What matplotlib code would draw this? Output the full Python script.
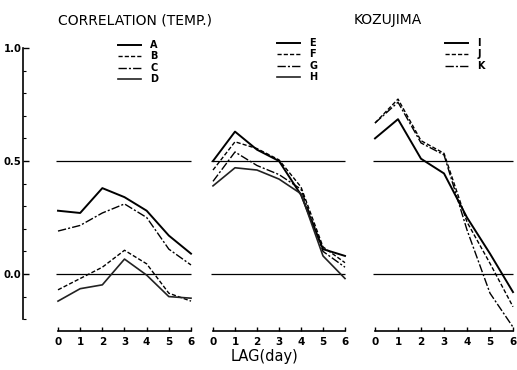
import matplotlib
matplotlib.use('Agg')
import matplotlib.pyplot as plt

lag = [0, 1, 2, 3, 4, 5, 6]

# panel 1
a = [0.28, 0.27, 0.38, 0.34, 0.28, 0.17, 0.09]
b = [-0.07, -0.02, 0.03, 0.105, 0.045, -0.085, -0.12]
c = [0.19, 0.215, 0.27, 0.31, 0.25, 0.11, 0.04]
d = [-0.12, -0.065, -0.048, 0.066, -0.005, -0.10, -0.107]
# panel 2
e = [0.50, 0.63, 0.55, 0.50, 0.35, 0.11, 0.08]
f = [0.46, 0.585, 0.555, 0.505, 0.385, 0.12, 0.05]
g = [0.41, 0.54, 0.48, 0.44, 0.375, 0.10, 0.03]
h = [0.39, 0.47, 0.46, 0.42, 0.355, 0.08, -0.02]
# panel 3
i_ = [0.60, 0.685, 0.51, 0.445, 0.25, 0.09, -0.08]
j = [0.668, 0.774, 0.59, 0.534, 0.23, 0.047, -0.145]
k = [0.668, 0.76, 0.58, 0.527, 0.195, -0.085, -0.235]

panels = [
    ([a, b, c, d], ['A', 'B', 'C', 'D']),
    ([e, f, g, h], ['E', 'F', 'G', 'H']),
    ([i_, j, k], ['I', 'J', 'K']),
]

styles = [
    dict(ls='-', lw=1.4, color='black'),
    dict(ls=(0, (3, 1.5)), lw=1.0, color='black'),
    dict(ls=(0, (6, 1.5, 1.5, 1.5)), lw=1.0, color='black'),
    dict(ls='-', lw=1.2, color='#222222'),
]

W, H = 517, 370
fig = plt.figure(figsize=(5.17, 3.70), dpi=100)

ylo, yhi = -0.25, 1.05
px_per = 226.0
y_zero = 274
top_px = y_zero - yhi * px_per
bot_px = y_zero - ylo * px_per

# (pixel x of lag 0, pixel x of lag 6)
xpix = [(58, 191), (213, 345), (375, 513)]
leg_pos = [(118, 40), (277, 38), (445, 38)]

for n, ((x0, x6), (series, labels)) in enumerate(zip(xpix, panels)):
    step = (x6 - x0) / 6.0
    left = x0 - 0.15 * step
    right = x6 + 0.15 * step
    ax = fig.add_axes([left / W, 1 - bot_px / H, (right - left) / W, (bot_px - top_px) / H])
    ax.set_xlim(-0.15, 6.15)
    ax.set_ylim(ylo, yhi)
    ax.patch.set_alpha(0)

    ax.hlines([0.5, 0.0], -0.1, 6.0, color='black', lw=0.9)
    handles = []
    for s, st in zip(series, styles):
        ln, = ax.plot(lag, s, **st)
        handles.append(ln)

    for sp in ['top', 'right', 'left']:
        ax.spines[sp].set_visible(False)
    ax.spines['bottom'].set_bounds(0, 6)
    ax.spines['bottom'].set_linewidth(1.2)
    ax.set_xticks(lag)
    ax.tick_params(axis='x', direction='in', length=3, width=1, pad=5,
                   labelsize=7.5)
    for lb in ax.get_xticklabels():
        lb.set_fontweight('bold')

    if n == 0:
        ax.spines['left'].set_visible(True)
        # outward distance is in points
        ax.spines['left'].set_position(('outward', (left - 23) * 72 / 100))
        ax.spines['left'].set_bounds(-0.2, 1.0)
        ax.spines['left'].set_linewidth(1.2)
        ax.set_yticks([0.0, 0.5, 1.0])
        ax.set_yticklabels(['0.0', '0.5', '1.0'])
        ax.set_yticks([-0.2, -0.1, 0.1, 0.2, 0.3, 0.4, 0.6, 0.7, 0.8, 0.9], minor=True)
        ax.tick_params(axis='y', which='major', direction='in', length=4, width=1,
                       pad=1, labelsize=7.2)
        ax.tick_params(axis='y', which='minor', direction='in', length=2, width=0.8)
        for lb in ax.get_yticklabels():
            lb.set_fontweight('bold')
    else:
        ax.set_yticks([])

    lx, ly = leg_pos[n]
    leg = ax.legend(handles, labels, loc='upper left',
                    bbox_to_anchor=(lx / W, 1 - ly / H), bbox_transform=fig.transFigure,
                    frameon=False, handlelength=2.4, handletextpad=0.9,
                    labelspacing=0.15, borderpad=0, borderaxespad=0,
                    prop=dict(size=7, weight='bold'))

fig.text(135 / W, 1 - 20 / H, 'CORRELATION (TEMP.)', ha='center', va='center',
         fontsize=10, fontfamily='DejaVu Sans')
fig.text(388 / W, 1 - 20 / H, 'KOZUJIMA', ha='center', va='center',
         fontsize=10, fontfamily='DejaVu Sans')
fig.text(265 / W, 1 - 357 / H, 'LAG(day)', ha='center', va='center',
         fontsize=10.5, fontfamily='DejaVu Sans')

fig.savefig('out.png', dpi=100)
